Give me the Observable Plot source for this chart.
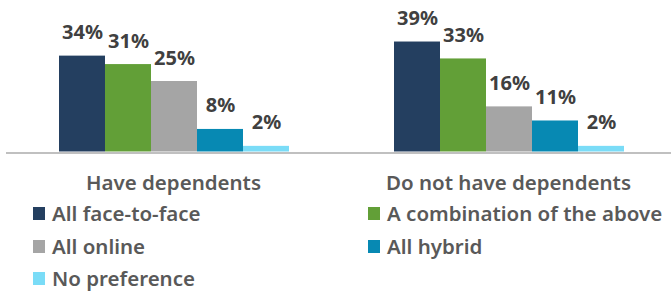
<!DOCTYPE html>
<html><head><meta charset="utf-8">
<script src="https://cdn.jsdelivr.net/npm/d3@7"></script>
<script src="https://cdn.jsdelivr.net/npm/@observablehq/plot@0.6"></script>
<style>
body{margin:0;background:#fff;font-family:"Noto Sans",sans-serif;}
#wrap{position:relative;width:671px;height:291px;overflow:hidden;}
#chart{position:absolute;left:0;top:0;}
.glabel{position:absolute;top:170px;font-size:20.5px;font-weight:600;color:#595959;white-space:nowrap;transform:translateX(-50%);line-height:24px;}
.item{position:absolute;font-size:20.5px;font-weight:600;color:#595959;white-space:nowrap;line-height:24px;display:flex;align-items:flex-start;}
.sw{display:inline-block;width:12px;height:13px;margin-top:6px;margin-right:7px;}
</style></head><body>
<div id="wrap"><div id="chart"></div><div id="groups"></div><div id="legend"></div></div>
<script>
const groups = ["Have dependents", "Do not have dependents"];
const series = ["All face-to-face", "A combination of the above", "All online", "All hybrid", "No preference"];
const colors = ["#243f60", "#629f37", "#a5a5a5", "#0789b3", "#7adcf7"];
const haveDependents = [34, 31, 25, 8, 2];
const noDependents = [39, 33, 16, 11, 2];

const values = [haveDependents, noDependents];
const data = groups.flatMap((g, i) => series.map((s, j) => ({group: g, series: s, value: values[i][j]})));

const chart = Plot.plot({
  width: 671, height: 160,
  marginLeft: 5, marginRight: -5, marginTop: 10.5, marginBottom: 8.5,
  fx: {domain: groups, padding: 0, axis: null},
  x: {domain: series, paddingInner: 0, paddingOuter: 1.11, axis: null},
  y: {domain: [0, 50], axis: null},
  color: {domain: series, range: colors},
  marks: [
    Plot.barY(data, {fx: "group", x: "series", y: "value", fill: "series", inset: 0}),
    Plot.text(data, {fx: "group", x: "series", y: "value", text: d => d.value + "%", dy: -17, lineAnchor: "bottom", fontSize: 20, fontWeight: "bold", fill: "#404040", fontFamily: "Noto Sans"}),
    Plot.ruleY([0], {stroke: "#c0c0c0", strokeWidth: 2, dy: 1})
  ]
});
chart.style.overflow = "visible";
document.getElementById("chart").append(chart);

// group labels, centred under each group of bars
const fxScale = chart.scale("fx");
const gdiv = document.getElementById("groups");
groups.forEach((g) => {
  const d = document.createElement("div");
  d.className = "glabel";
  d.style.left = (fxScale.apply(g) + fxScale.bandwidth / 2) + "px";
  d.textContent = g;
  gdiv.append(d);
});

// legend
const leg = document.getElementById("legend");
const colX = [33, 368], rowY = [201, 233.5, 266];
series.forEach((s, i) => {
  const d = document.createElement("div");
  d.className = "item";
  d.style.left = colX[i % 2] + "px";
  d.style.top = rowY[Math.floor(i / 2)] + "px";
  const sw = document.createElement("span");
  sw.className = "sw";
  sw.style.background = colors[i];
  d.append(sw, document.createTextNode(s));
  leg.append(d);
});
</script>
</body></html>
